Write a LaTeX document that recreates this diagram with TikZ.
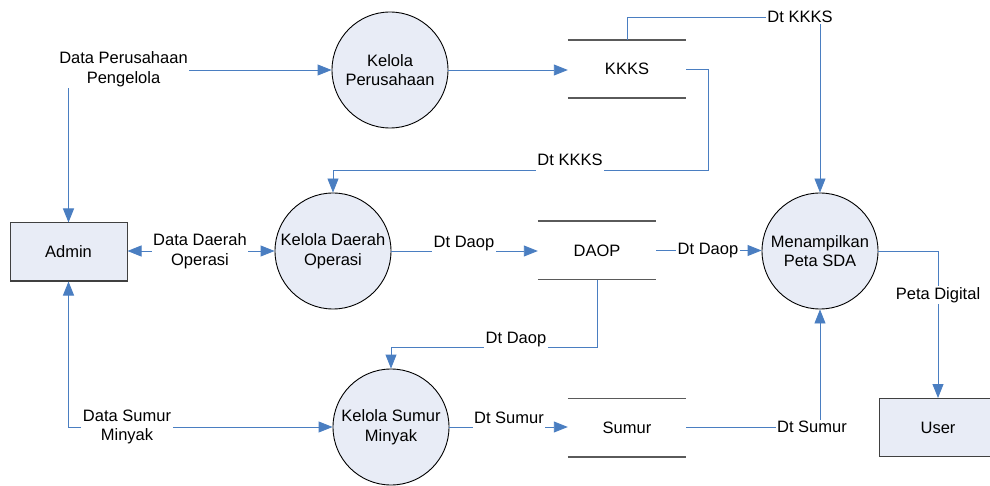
\documentclass[tikz,border=0pt]{standalone}
\usepackage{fontspec}
\setmainfont{Liberation Sans}
\usetikzlibrary{arrows.meta}
\definecolor{flowblue}{RGB}{74,126,193}
\definecolor{procfill}{RGB}{232,236,246}
\definecolor{storegray}{RGB}{90,90,90}
\tikzset{flowtip/.tip={Triangle[length=14pt,width=11pt]}}
\begin{document}
\begin{tikzpicture}[x=1pt,y=-1pt,
  font=\fontsize{16.5}{19.5}\selectfont,
  proc/.style={circle, draw=black, line width=0.9pt, fill=procfill, minimum size=116pt, inner sep=0pt, align=center},
  ent/.style={rectangle, draw=black!75, line width=1pt, fill=procfill, minimum width=117pt, minimum height=58pt, inner sep=0pt},
  store/.style={rectangle, minimum width=118pt, minimum height=58pt, inner sep=0pt},
  storeline/.style={draw=storegray, line width=1.6pt},
  flow/.style={draw=flowblue, line width=0.9pt, -flowtip},
  dflow/.style={draw=flowblue, line width=0.9pt, flowtip-flowtip},
  lbl/.style={fill=white, inner sep=1.5pt, align=center},
  lblb/.style={fill=white, inner sep=1.5pt, anchor=base, text depth=6pt}
]
\useasboundingbox (0,0) rectangle (990,486);

% processes
\node[proc] (kp) at (390,70) {Kelola\\Perusahaan};
\node[proc] (kdo) at (333,251) {Kelola Daerah\\Operasi};
\node[proc] (ksm) at (391,427) {Kelola Sumur\\Minyak};
\node[proc] (mps) at (820,251) {Menampilkan\\Peta SDA};

% entities
\node[ent] (admin) at (68.5,252) {Admin};
\node[ent] (user) at (938,427.5) {User};

% data stores
\node[store] (kkks) at (627,69) {KKKS};
\node[store] (daop) at (597,250.5) {DAOP};
\node[store] (sumur) at (627,427.5) {Sumur};
\foreach \s in {kkks,daop,sumur}{
  \draw[storeline] (\s.north west) -- (\s.north east) (\s.south west) -- (\s.south east);
}

% flows
\draw[dflow] (admin.north) -- (admin.north |- kp.west) -- (kp.west);
\draw[flow] (kp.east) -- (kp.east -| kkks.west);
\draw[flow] (kkks.east) -- (708,69) -- (708,170) -- (333,170) -- (kdo.north);
\draw[flow] (kkks.north) -- (627,17.5) -- (820,17.5) -- (mps.north);
\draw[dflow] (admin.east |- kdo.west) -- (kdo.west);
\draw[flow] (kdo.east) -- (kdo.east -| daop.west);
\draw[flow] (daop.east) -- (daop.east -| mps.west);
\draw[flow] (daop.south) -- (597,347) -- (391,347) -- (ksm.north);
\draw[dflow] (admin.south) -- (admin.south |- ksm.west) -- (ksm.west);
\draw[flow] (ksm.east) -- (ksm.east -| sumur.west);
\draw[flow] (sumur.east) -- (sumur.east -| mps.south) -- (mps.south);
\draw[flow] (mps.east) -- (mps.east -| user.north) -- (user.north);

% labels
\node[lbl] (l1) at (123.5,69) {Data Perusahaan\\Pengelola};
\node[lblb] (l2) at (570,166) {Dt KKKS};
\node[lbl] (l3) at (800,17) {Dt KKKS};
\node[lbl] (l4) at (200,251) {Data Daerah\\Operasi};
\node[lblb] (l5) at (464,248) {Dt Daop};
\node[lbl] (l6) at (708,251) {Dt Daop};
\node[lblb] (l7) at (516,343) {Dt Daop};
\node[lbl] (l8) at (127,427) {Data Sumur\\Minyak};
\node[lblb] (l9) at (509,423) {Dt Sumur};
\node[lbl] (l10) at (812,427) {Dt Sumur};
\node[lbl] (l11) at (938,295) {Peta Digital};
\end{tikzpicture}
\end{document}
